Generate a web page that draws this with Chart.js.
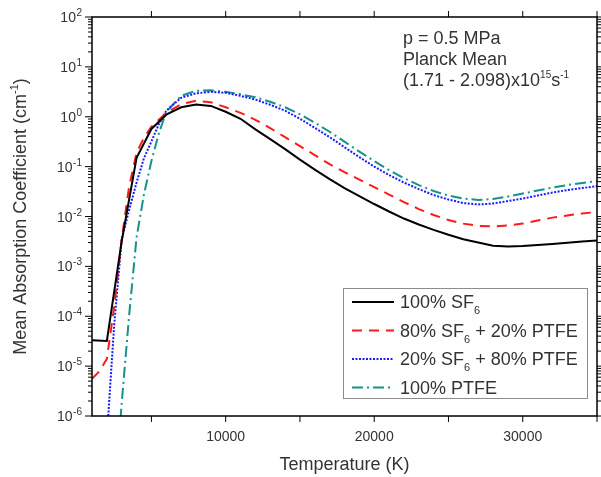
<!DOCTYPE html>
<html>
<head>
<meta charset="utf-8">
<script src="https://cdn.jsdelivr.net/npm/chart.js@4.4.0/dist/chart.umd.min.js"></script>
<style>
  html, body { margin: 0; padding: 0; background: #fff; }
  #chart { display: block; }
</style>
</head>
<body>
<canvas id="chart" width="601" height="477"></canvas>
<script>
// Planck mean absorption coefficient (cm^-1) vs temperature (K), p = 0.5 MPa
const tempSF6 = [1000, 2000, 3000, 4000, 5000, 6000, 7000, 8000, 9000, 10000,
  11000, 12000, 13000, 14000, 15000, 16000, 17000, 18000, 19000, 20000,
  21000, 22000, 23000, 24000, 25000, 26000, 27000, 28000, 29000, 30000,
  31000, 32000, 33000, 34000, 35000];
const kSF6 = [3.3e-5, 3.2e-5, 3.2e-3, 0.15, 0.57, 1.1, 1.55, 1.75, 1.65, 1.26,
  0.91, 0.56, 0.355, 0.224, 0.138, 0.087, 0.056, 0.037, 0.0257, 0.0178,
  0.0126, 0.0091, 0.0069, 0.0054, 0.0043, 0.0035, 0.0030, 0.0026, 0.0025, 0.00256,
  0.00268, 0.00282, 0.00298, 0.00315, 0.0033];

const tempMix80 = [1000, 1500, 2000, 2500, 3000, 3500, 4000, 4500, 5000, 6000,
  7000, 8000, 9000, 10000, 11000, 12000, 13000, 14000, 15000, 16000,
  17000, 18000, 19000, 20000, 21000, 22000, 23000, 24000, 25000, 26000,
  27000, 28000, 29000, 30000, 31000, 32000, 33000, 34000, 35000];
const kMix80 = [5.6e-6, 7.9e-6, 1.4e-5, 1.6e-4, 3.5e-3, 0.04, 0.19, 0.38, 0.63, 1.2,
  1.78, 2.1, 1.95, 1.55, 1.2, 0.87, 0.59, 0.39, 0.257, 0.17,
  0.112, 0.0776, 0.055, 0.0389, 0.0275, 0.0195, 0.0141, 0.0107, 0.0085, 0.0072,
  0.0065, 0.0063, 0.0066, 0.0072, 0.0083, 0.0095, 0.0105, 0.0115, 0.0123];

const tempMix20 = [2000, 2500, 3000, 3500, 4000, 4500, 5000, 5500, 6000, 7000,
  8000, 9000, 10000, 11000, 12000, 13000, 14000, 15000, 16000, 17000,
  18000, 19000, 20000, 21000, 22000, 23000, 24000, 25000, 26000, 27000,
  28000, 29000, 30000, 31000, 32000, 33000, 34000, 35000];
const kMix20 = [3.8e-7, 7.1e-5, 3.5e-3, 0.0135, 0.048, 0.148, 0.32, 0.71, 1.32, 2.4,
  2.95, 3.16, 3.02, 2.63, 2.21, 1.74, 1.32, 0.91, 0.60, 0.39,
  0.245, 0.155, 0.10, 0.068, 0.048, 0.0355, 0.0269, 0.0219, 0.0186, 0.0174,
  0.0182, 0.0204, 0.0229, 0.0263, 0.0302, 0.0339, 0.0372, 0.0407];

const tempPTFE = [2800, 3000, 3500, 4000, 4500, 5000, 5500, 6000, 7000, 8000,
  9000, 10000, 11000, 12000, 13000, 14000, 15000, 16000, 17000, 18000,
  19000, 20000, 21000, 22000, 23000, 24000, 25000, 26000, 27000, 28000,
  29000, 30000, 31000, 32000, 33000, 34000, 35000];
const kPTFE = [3.2e-7, 1.8e-6, 1.05e-4, 3.8e-3, 0.028, 0.13, 0.46, 1.26, 2.63, 3.3,
  3.39, 3.16, 2.82, 2.45, 2.0, 1.55, 1.12, 0.76, 0.50, 0.316,
  0.20, 0.129, 0.085, 0.059, 0.0427, 0.0324, 0.0263, 0.0229, 0.0214, 0.0224,
  0.0251, 0.0288, 0.0331, 0.0380, 0.0427, 0.0468, 0.0513];

// axis ticks
const yTickExps = ['-6', '-5', '-4', '-3', '-2', '-1', '0', '1', '2'];
const yMinorMult = [2, 3, 4, 5, 6, 7, 8, 9];
const xTickLabels = [10000, 20000, 30000];
const xMinorTicks = [5000, 10000, 15000, 20000, 25000, 30000, 35000];

// legend text: [main, subscript, rest]
const legendLabels = [
  ['100% SF', '6', ''],
  ['80% SF', '6', ' + 20% PTFE'],
  ['20% SF', '6', ' + 80% PTFE'],
  ['100% PTFE', '', '']
];

const FONT = '"Liberation Sans", Arial, sans-serif';
const TEXT = '#333';

function pts(xs, ys) {
  return xs.map((t, i) => ({ x: t, y: ys[i] }));
}

// frame, ticks, tick labels, axis titles, note and legend
const decorations = {
  id: 'decorations',
  afterDraw(chart) {
    const { ctx, chartArea: a, scales: { x, y } } = chart;
    ctx.save();

    const seg = (x1, y1, x2, y2) => {
      ctx.beginPath();
      ctx.moveTo(x1, y1);
      ctx.lineTo(x2, y2);
      ctx.stroke();
    };

    // plot frame
    ctx.strokeStyle = '#000';
    ctx.lineWidth = 1.5;
    ctx.strokeRect(a.left, a.top, a.right - a.left, a.bottom - a.top);

    // y ticks (both sides)
    ctx.lineWidth = 1;
    ctx.textBaseline = 'alphabetic';
    yTickExps.forEach((e, i) => {
      const decade = Number('1e' + e);
      const py = y.getPixelForValue(decade);
      seg(a.left - 7, py, a.left, py);
      seg(a.right, py, a.right + 7, py);
      if (i < yTickExps.length - 1) {
        yMinorMult.forEach(m => {
          const pm = y.getPixelForValue(m * decade);
          seg(a.left - 4, pm, a.left, pm);
          seg(a.right, pm, a.right + 4, pm);
        });
      }
      // label 10^e
      ctx.fillStyle = TEXT;
      ctx.font = '10px ' + FONT;
      const ew = ctx.measureText(e).width;
      ctx.textAlign = 'left';
      ctx.fillText(e, 82 - ew, py - 1);
      ctx.font = '14px ' + FONT;
      ctx.textAlign = 'right';
      ctx.fillText('10', 82 - ew - 0.5, py + 5);
    });

    // x ticks (bottom and top)
    xMinorTicks.forEach(t => {
      const px = x.getPixelForValue(t);
      seg(px, a.bottom, px, a.bottom + 6);
      seg(px, a.top, px, a.top - 6);
    });
    ctx.font = '14px ' + FONT;
    ctx.textAlign = 'center';
    ctx.fillStyle = TEXT;
    xTickLabels.forEach(t => {
      ctx.fillText(String(t), x.getPixelForValue(t), 441);
    });

    // x title
    ctx.font = '18px ' + FONT;
    ctx.fillText('Temperature (K)', (a.left + a.right) / 2, 470);

    // y title, rotated, with superscript
    ctx.save();
    ctx.translate(26, (a.top + a.bottom) / 2);
    ctx.rotate(-Math.PI / 2);
    ctx.font = '18px ' + FONT;
    const p1 = 'Mean Absorption Coefficient (cm';
    const w1 = ctx.measureText(p1).width;
    const w3 = ctx.measureText(')').width;
    ctx.font = '11px ' + FONT;
    const w2 = ctx.measureText('-1').width;
    let sx = -(w1 + w2 + w3) / 2;
    ctx.textAlign = 'left';
    ctx.font = '18px ' + FONT;
    ctx.fillText(p1, sx, 0);
    ctx.font = '11px ' + FONT;
    ctx.fillText('-1', sx + w1, -8);
    ctx.font = '18px ' + FONT;
    ctx.fillText(')', sx + w1 + w2, 0);
    ctx.restore();

    // note text
    ctx.textAlign = 'left';
    ctx.font = '18px ' + FONT;
    ctx.fillText('p = 0.5 MPa', 403, 44);
    ctx.fillText('Planck Mean', 403, 65);
    let nx = 403;
    const parts = [['(1.71 - 2.098)x10', 18, 0], ['15', 10, -8], ['s', 18, 0], ['-1', 10, -8]];
    parts.forEach(([s, size, dy]) => {
      ctx.font = size + 'px ' + FONT;
      ctx.fillText(s, nx, 86 + dy);
      nx += ctx.measureText(s).width;
    });

    // legend box
    ctx.strokeStyle = '#8c8c8c';
    ctx.lineWidth = 1;
    ctx.strokeRect(343.5, 288.5, 244, 110);
    chart.data.datasets.forEach((ds, i) => {
      const cy = 302 + i * 28.5;
      ctx.save();
      ctx.strokeStyle = ds.borderColor;
      ctx.lineWidth = ds.borderWidth;
      ctx.setLineDash(ds.borderDash || []);
      seg(352, cy, 394, cy);
      ctx.restore();
      const [main, sub, rest] = legendLabels[i];
      let lx = 400;
      const by = cy + 6;
      ctx.fillStyle = TEXT;
      ctx.font = '18px ' + FONT;
      ctx.fillText(main, lx, by);
      lx += ctx.measureText(main).width;
      if (sub) {
        ctx.font = '11px ' + FONT;
        ctx.fillText(sub, lx, by + 6);
        lx += ctx.measureText(sub).width;
      }
      if (rest) {
        ctx.font = '18px ' + FONT;
        ctx.fillText(rest, lx, by);
      }
    });

    ctx.restore();
  }
};

new Chart(document.getElementById('chart'), {
  type: 'line',
  data: {
    datasets: [
      {
        label: '100% SF6',
        data: pts(tempSF6, kSF6),
        borderColor: '#000000',
        borderWidth: 2,
        borderDash: []
      },
      {
        label: '80% SF6 + 20% PTFE',
        data: pts(tempMix80, kMix80),
        borderColor: '#ff1a1a',
        borderWidth: 2,
        borderDash: [10, 7]
      },
      {
        label: '20% SF6 + 80% PTFE',
        data: pts(tempMix20, kMix20),
        borderColor: '#1a1aff',
        borderWidth: 2,
        borderDash: [2, 1.5]
      },
      {
        label: '100% PTFE',
        data: pts(tempPTFE, kPTFE),
        borderColor: '#16928c',
        borderWidth: 2,
        borderDash: [11, 4, 2, 4]
      }
    ]
  },
  options: {
    responsive: false,
    animation: false,
    layout: { padding: { top: 17, right: 4, left: 0, bottom: 0 } },
    elements: {
      point: { radius: 0 },
      line: { tension: 0, fill: false }
    },
    plugins: {
      legend: { display: false },
      tooltip: { enabled: false }
    },
    scales: {
      x: {
        type: 'linear',
        min: 1000,
        max: 35000,
        ticks: { display: false },
        grid: { display: false },
        border: { display: false },
        afterFit(scale) { scale.height = 61; }
      },
      y: {
        type: 'logarithmic',
        min: 1e-6,
        max: 1e2,
        ticks: { display: false },
        grid: { display: false },
        border: { display: false },
        afterFit(scale) { scale.width = 92; }
      }
    }
  },
  plugins: [decorations]
});
</script>
</body>
</html>
